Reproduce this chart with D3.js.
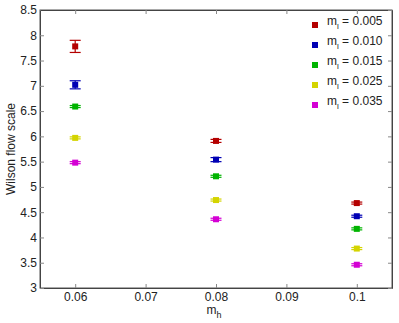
<!DOCTYPE html>
<html>
<head>
<meta charset="utf-8">
<script src="https://cdn.jsdelivr.net/npm/d3@7"></script>
<style>
  body { margin: 0; background: #fff; }
  svg text { font-family: "Liberation Sans", Arial, sans-serif; fill: #222; }
</style>
</head>
<body>
<div id="chart"></div>
<script>
// data
var mh = [0.06, 0.08, 0.1];
var mlLabels = ["0.005", "0.010", "0.015", "0.025", "0.035"];
var colors = ["#b40000", "#0000b4", "#00b400", "#d4d400", "#d400d4"];
var vals = [
  [7.78, 5.91, 4.68],
  [7.02, 5.54, 4.42],
  [6.59, 5.21, 4.17],
  [5.97, 4.74, 3.78],
  [5.48, 4.36, 3.46]
];
var errs = [
  [0.12, 0.03, 0.02],
  [0.08, 0.04, 0.02],
  [0.02, 0.02, 0.02],
  [0.02, 0.02, 0.02],
  [0.02, 0.02, 0.02]
];
var xTicks = [0.06, 0.07, 0.08, 0.09, 0.1];
var yTicks = [3, 3.5, 4, 4.5, 5, 5.5, 6, 6.5, 7, 7.5, 8, 8.5];

var width = 399, height = 323;
var margin = {top: 10, right: 7, bottom: 35, left: 40};

var svg = d3.select("#chart").append("svg")
  .attr("width", width)
  .attr("height", height);

var x = d3.scaleLinear().domain([0.055, 0.105]).range([margin.left, width - margin.right]);
var y = d3.scaleLinear().domain([3, 8.5]).range([height - margin.bottom, margin.top]);

// frame
svg.append("rect")
  .attr("x", x.range()[0]).attr("y", y.range()[1])
  .attr("width", x.range()[1] - x.range()[0])
  .attr("height", y.range()[0] - y.range()[1])
  .attr("fill", "none").attr("stroke", "#555").attr("stroke-width", 1);

// axes, ticks inward
var fmt = function(d) { return d3.format("")(+d.toFixed(2)); };
svg.append("g")
  .attr("transform", "translate(0," + y.range()[0] + ")")
  .call(d3.axisBottom(x).tickValues(xTicks).tickSizeInner(-4).tickSizeOuter(0).tickPadding(4).tickFormat(fmt));
svg.append("g")
  .attr("transform", "translate(" + x.range()[0] + ",0)")
  .call(d3.axisLeft(y).tickValues(yTicks).tickSizeInner(-4).tickSizeOuter(0).tickPadding(3).tickFormat(fmt));
svg.append("g")
  .attr("transform", "translate(0," + y.range()[1] + ")")
  .call(d3.axisTop(x).tickValues(xTicks).tickSizeInner(-4).tickSizeOuter(0).tickFormat(""));
svg.append("g")
  .attr("transform", "translate(" + x.range()[1] + ",0)")
  .call(d3.axisRight(y).tickValues(yTicks).tickSizeInner(-4).tickSizeOuter(0).tickFormat(""));

svg.selectAll(".domain").attr("stroke", "#444");
svg.selectAll(".tick line").attr("stroke", "#888");
svg.selectAll(".tick text")
  .style("font-family", "Liberation Sans, Arial, sans-serif")
  .style("font-size", "12px")
  .attr("fill", "#222");

// axis titles
svg.append("text")
  .attr("transform", "translate(15," + (margin.top + (y.range()[0] - y.range()[1]) / 2) + ") rotate(-90)")
  .attr("text-anchor", "middle")
  .style("font-size", "12px")
  .text("Wilson flow scale");

var xt = svg.append("text")
  .attr("x", x(0.08) - 2).attr("y", 314)
  .attr("text-anchor", "middle")
  .style("font-size", "12px");
xt.append("tspan").text("m");
xt.append("tspan").attr("dy", 4).style("font-size", "9px").text("h");

// error bars and markers
vals.forEach(function(series, s) {
  var g = svg.append("g");
  series.forEach(function(v, i) {
    var cx = x(mh[i]), e = errs[s][i];
    g.append("line")
      .attr("x1", cx).attr("x2", cx)
      .attr("y1", y(v - e)).attr("y2", y(v + e))
      .attr("stroke", colors[s]).attr("stroke-width", 1.2);
    [v - e, v + e].forEach(function(yy) {
      g.append("line")
        .attr("x1", cx - 5.5).attr("x2", cx + 5.5)
        .attr("y1", y(yy)).attr("y2", y(yy))
        .attr("stroke", colors[s]).attr("stroke-width", 1.2);
    });
    g.append("rect")
      .attr("x", cx - 3).attr("y", y(v) - 3)
      .attr("width", 6).attr("height", 6)
      .attr("fill", colors[s]);
  });
});

// legend
var legend = svg.append("g");
mlLabels.forEach(function(lab, s) {
  var ly = 25 + s * 20;
  legend.append("rect")
    .attr("x", 312).attr("y", ly - 3)
    .attr("width", 6).attr("height", 6)
    .attr("fill", colors[s]);
  var t = legend.append("text")
    .attr("x", 327).attr("y", ly)
    .style("font-size", "12px");
  t.append("tspan").text("m");
  t.append("tspan").attr("dy", 4).style("font-size", "8px").text("l");
  t.append("tspan").attr("dy", -4).text(" = " + lab);
});
</script>
</body>
</html>
